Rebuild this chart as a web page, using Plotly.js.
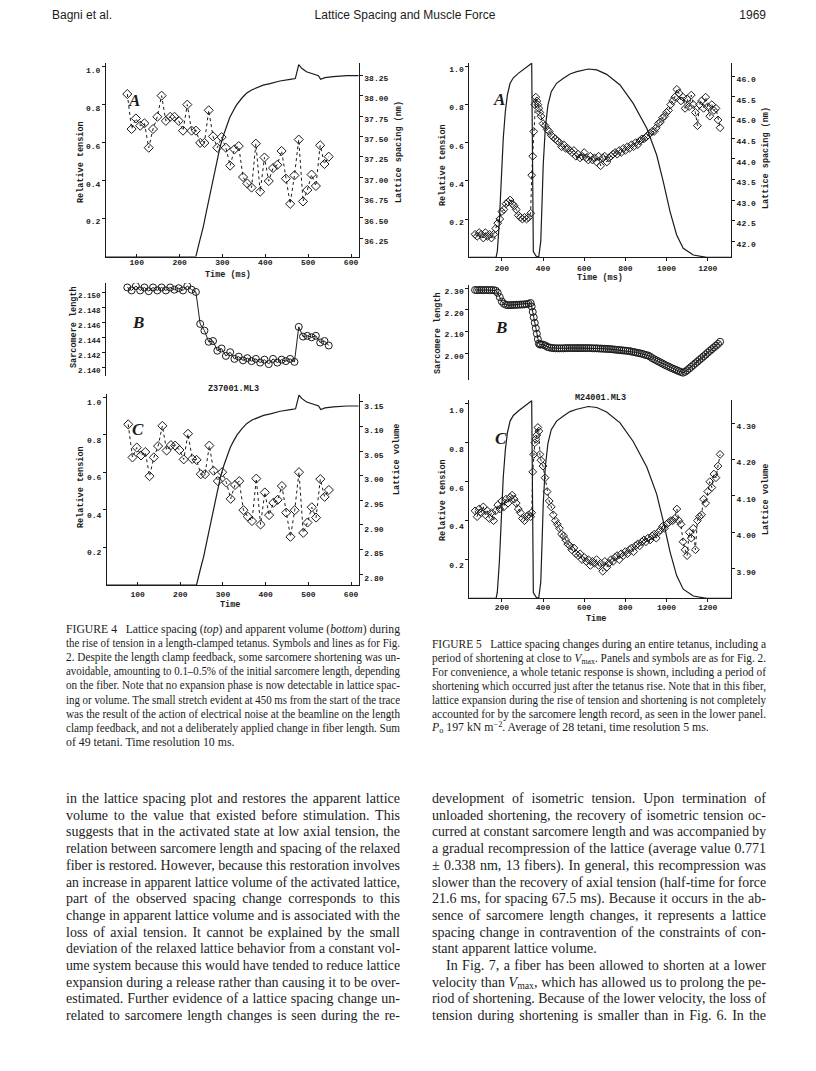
<!DOCTYPE html>
<html><head><meta charset="utf-8">
<script src="https://cdn.plot.ly/plotly-3.0.1.min.js"></script>
<style>
body{margin:0;background:#fff;}
#page{position:relative;width:816px;height:1071px;overflow:hidden;background:#fff;}
#plot{position:absolute;left:0;top:0;width:816px;height:1071px;}
.t{position:absolute;white-space:nowrap;color:#1b1b1b;}
.hd{font-family:'Liberation Sans',Arial,sans-serif;font-size:12px;line-height:14px;}
.cap{font-family:'Liberation Serif','Times New Roman',serif;font-size:11.8px;line-height:14px;}
.bd{font-family:'Liberation Serif','Times New Roman',serif;font-size:14px;line-height:17px;}
sub{font-size:70%;vertical-align:-2px;line-height:0;}
sup{font-size:70%;vertical-align:4px;line-height:0;}
</style></head><body><div id="page"><div id="plot"></div></div>
<script>
// ---------- FIGURE 4 data ----------
const time4T = [28,238,247,255,263,271,278,286,294,302,310,317,325,333,345,356,368,380,395,411,434,458,470,478,485,496,512,524,529,539,559,590,618];
const tension4 = [0,0,0.084,0.154,0.242,0.33,0.418,0.505,0.575,0.637,0.689,0.733,0.768,0.80,0.835,0.861,0.879,0.891,0.904,0.912,0.926,0.935,0.939,1.012,0.993,0.975,0.961,0.954,0.935,0.944,0.949,0.954,0.954];
const time4 = [78,88,98,108,118,128,138,148,158,168,178,188,198,208,218,228,238,248,258,268,278,288,298,308,318,328,338,348,358,368,378,388,398,408,418,428,438,448,458,468,478,488,498,508,518,528,538,548];
const spacing4 = [38.02,37.59,37.72,37.63,37.66,37.36,37.59,37.74,38.00,37.69,37.74,37.74,37.69,37.57,37.89,37.57,37.57,37.42,37.42,37.82,37.50,37.36,37.49,37.36,37.14,37.34,37.38,37.00,36.92,36.87,37.41,36.82,37.24,36.95,37.11,37.15,37.32,36.98,36.67,37.02,37.46,36.70,36.84,37.03,36.89,37.39,37.16,37.25];
const sarcomere4 = [2.1507,2.1503,2.1509,2.1503,2.1507,2.1502,2.1507,2.1503,2.1507,2.1503,2.1507,2.1504,2.1506,2.1503,2.1509,2.1504,2.1501,2.1458,2.1449,2.1434,2.1435,2.1422,2.1425,2.1415,2.1420,2.1411,2.1414,2.1409,2.1412,2.1408,2.1411,2.1406,2.1410,2.1404,2.1411,2.1406,2.1410,2.1408,2.1411,2.1407,2.1454,2.1441,2.1442,2.1440,2.1442,2.1433,2.1435,2.1429];
const volume4 = [3.104,3.037,3.057,3.041,3.048,2.999,3.037,3.060,3.101,3.051,3.062,3.061,3.052,3.033,3.085,3.034,3.032,3.003,3.003,3.061,3.010,2.989,3.007,2.986,2.953,2.981,2.989,2.930,2.917,2.908,2.994,2.901,2.966,2.920,2.945,2.951,2.979,2.925,2.876,2.930,3.007,2.884,2.905,2.936,2.915,2.993,2.957,2.971];

// ---------- FIGURE 5 data ----------
const time5T = [42,172,178,188,197,207,217,227,240,256,280,304,329,345,353,366,379,389,395,401,411,424,440,466,499,531,564,596,620,661,709,774,838,904,952,984,1017,1049,1081,1130,1195,1313];
const tension5 = [0,0,0.03,0.187,0.397,0.624,0.763,0.851,0.912,0.941,0.964,0.982,1.004,1.017,0.03,0.007,0,0.082,0.274,0.484,0.676,0.798,0.868,0.912,0.938,0.961,0.973,0.982,0.987,0.982,0.959,0.903,0.807,0.676,0.536,0.397,0.239,0.117,0.047,0.012,0,0];
const time5 = [70,80,90,100,110,120,130,140,150,160,170,180,190,200,210,220,230,240,250,260,270,280,290,300,310,320,330,340,345,350,355,360,365,370,375,380,385,390,400,410,420,430,440,450,460,470,480,490,500,510,520,530,540,550,560,570,580,590,600,610,620,630,640,650,660,670,680,690,700,710,720,730,740,750,760,770,780,790,800,810,820,830,840,850,860,870,880,890,900,910,920,930,940,950,960,970,980,990,1000,1010,1020,1030,1040,1050,1060,1070,1080,1090,1100,1110,1120,1130,1140,1150,1160,1170,1180,1190,1200,1210,1220,1230,1240,1250,1260];
const spacing5 = [42.17,42.12,42.21,42.17,42.08,42.21,42.12,42.17,42.08,42.17,
42.31,42.44,42.54,42.72,42.77,42.91,42.95,43.00,42.91,42.86,
42.77,42.63,42.58,42.54,42.58,42.54,42.58,42.68,
43.60,44.06,44.66,45.31,45.49,45.40,45.31,45.22,45.12,45.03,
44.85,44.80,44.71,44.66,44.57,44.52,44.48,44.43,44.39,44.29,
44.34,44.25,44.25,44.20,44.15,44.20,44.06,44.11,44.02,44.06,
44.15,44.02,43.97,44.06,43.97,44.02,43.92,44.06,43.83,44.02,
44.06,43.92,44.02,44.06,44.11,44.15,44.11,44.20,44.15,44.25,
44.20,44.29,44.25,44.34,44.29,44.39,44.34,44.43,44.48,44.48,
44.52,44.57,44.62,44.66,44.66,44.75,44.85,44.89,44.99,45.03,
45.12,45.17,45.31,45.40,45.49,45.68,45.59,45.40,45.49,45.22,
45.45,45.26,45.54,45.31,45.12,44.80,45.31,45.40,45.22,45.49,
45.26,45.03,45.31,45.17,45.22,44.94,44.75];
const sarcomere5 = [2.291,2.290,2.291,2.291,2.290,2.291,2.291,2.290,2.291,2.290,
2.288,2.278,2.258,2.238,2.228,2.223,2.221,2.221,2.222,2.222,
2.223,2.223,2.224,2.224,2.225,2.226,2.228,2.231,
2.215,2.190,2.165,2.140,2.115,2.090,2.065,2.045,2.040,2.041,
2.040,2.036,2.030,2.027,2.025,2.024,2.023,2.023,2.023,2.023,
2.023,2.024,2.024,2.024,2.024,2.024,2.024,2.024,2.024,2.024,
2.024,2.024,2.024,2.024,2.023,2.023,2.023,2.022,2.022,2.021,
2.021,2.020,2.020,2.019,2.018,2.017,2.016,2.015,2.014,2.013,
2.012,2.011,2.010,2.008,2.006,2.004,2.002,2.000,1.998,1.995,
1.992,1.990,1.985,1.978,1.973,1.968,1.963,1.958,1.953,1.948,
1.943,1.939,1.934,1.930,1.926,1.922,1.918,1.914,1.911,1.915,
1.922,1.930,1.938,1.946,1.954,1.962,1.970,1.978,1.986,1.994,
2.003,2.011,2.019,2.027,2.035,2.043,2.053];
const volume5 = [4.059,4.043,4.064,4.054,4.070,4.048,4.059,4.038,4.054,4.032,
4.059,4.075,4.064,4.086,4.070,4.091,4.080,4.096,4.102,4.091,
4.080,4.064,4.054,4.038,4.032,4.043,4.048,4.043,
4.054,4.166,4.214,4.246,4.256,4.267,4.288,4.278,4.214,4.198,
4.182,4.150,4.112,4.086,4.070,4.048,4.032,4.022,4.011,3.995,
3.990,3.979,3.968,3.963,3.952,3.957,3.941,3.936,3.941,3.925,
3.931,3.920,3.925,3.909,3.920,3.915,3.925,3.909,3.915,3.893,
3.920,3.904,3.915,3.925,3.920,3.931,3.936,3.925,3.941,3.936,
3.947,3.941,3.952,3.957,3.947,3.963,3.968,3.963,3.974,3.979,
3.974,3.984,3.979,3.990,3.995,3.984,4.000,4.006,4.016,4.011,
4.022,4.027,4.032,4.032,4.038,4.064,4.032,4.022,3.974,3.952,
3.936,4.000,3.984,4.011,3.952,4.032,4.043,4.048,4.091,4.080,
4.112,4.139,4.123,4.160,4.150,4.182,4.214];

// ---------- tick labels ----------
const timeTicks4 = [100,200,300,400,500,600];
const timeTicks5 = [200,400,600,800,1000,1200];
const tensionTicks = [0.2,0.4,0.6,0.8,1.0];
const spacingTicks4 = [36.25,36.50,36.75,37.00,37.25,37.50,37.75,38.00,38.25];
const sarcomereTicks4 = [2.140,2.142,2.144,2.146,2.148,2.150];
const volumeTicks4 = [2.80,2.85,2.90,2.95,3.00,3.05,3.10,3.15];
const spacingTicks5 = [42.0,42.5,43.0,43.5,44.0,44.5,45.0,45.5,46.0];
const sarcomereTicks5 = [2.00,2.10,2.20,2.30];
const volumeTicks5 = [3.90,4.00,4.10,4.20,4.30];

// ---------- text ----------
const headerLeft = 'Bagni et al.';
const headerMid = 'Lattice Spacing and Muscle Force';
const headerRight = '1969';
const caption4 = [
 'FIGURE 4&nbsp;&nbsp;&nbsp;Lattice spacing (<i>top</i>) and apparent volume (<i>bottom</i>) during',
 'the rise of tension in a length-clamped tetanus. Symbols and lines as for Fig.',
 '2. Despite the length clamp feedback, some sarcomere shortening was un-',
 'avoidable, amounting to 0.1–0.5% of the initial sarcomere length, depending',
 'on the fiber. Note that no expansion phase is now detectable in lattice spac-',
 'ing or volume. The small stretch evident at 450 ms from the start of the trace',
 'was the result of the action of electrical noise at the beamline on the length',
 'clamp feedback, and not a deliberately applied change in fiber length. Sum',
 'of 49 tetani. Time resolution 10 ms.'];
const caption5 = [
 'FIGURE 5&nbsp;&nbsp;&nbsp;Lattice spacing changes during an entire tetanus, including a',
 'period of shortening at close to <i>V</i><sub>max</sub>. Panels and symbols are as for Fig. 2.',
 'For convenience, a whole tetanic response is shown, including a period of',
 'shortening which occurred just after the tetanus rise. Note that in this fiber,',
 'lattice expansion during the rise of tension and shortening is not completely',
 'accounted for by the sarcomere length record, as seen in the lower panel.',
 '<i>P</i><sub>o</sub> 197 kN m<sup>−2</sup>. Average of 28 tetani, time resolution 5 ms.'];
const bodyLeft = [
 'in the lattice spacing plot and restores the apparent lattice',
 'volume to the value that existed before stimulation. This',
 'suggests that in the activated state at low axial tension, the',
 'relation between sarcomere length and spacing of the relaxed',
 'fiber is restored. However, because this restoration involves',
 'an increase in apparent lattice volume of the activated lattice,',
 'part of the observed spacing change corresponds to this',
 'change in apparent lattice volume and is associated with the',
 'loss of axial tension. It cannot be explained by the small',
 'deviation of the relaxed lattice behavior from a constant vol-',
 'ume system because this would have tended to reduce lattice',
 'expansion during a release rather than causing it to be over-',
 'estimated. Further evidence of a lattice spacing change un-',
 'related to sarcomere length changes is seen during the re-'];
const bodyRight1 = [
 'development of isometric tension. Upon termination of',
 'unloaded shortening, the recovery of isometric tension oc-',
 'curred at constant sarcomere length and was accompanied by',
 'a gradual recompression of the lattice (average value 0.771',
 '± 0.338 nm, 13 fibers). In general, this recompression was',
 'slower than the recovery of axial tension (half-time for force',
 '21.6 ms, for spacing 67.5 ms). Because it occurs in the ab-',
 'sence of sarcomere length changes, it represents a lattice',
 'spacing change in contravention of the constraints of con-',
 'stant apparent lattice volume.'];
const bodyRight2 = [
 'In Fig. 7, a fiber has been allowed to shorten at a lower',
 'velocity than <i>V</i><sub>max</sub>, which has allowed us to prolong the pe-',
 'riod of shortening. Because of the lower velocity, the loss of',
 'tension during shortening is smaller than in Fig. 6. In the'];

// ---------- layout helpers ----------
const W = 816, H = 1071;
const dx = (a,b) => [a/W, b/W];
const dy = (top,bottom) => [1-bottom/H, 1-top/H];
const px = v => v/W, py = v => 1-v/H;
const INK = '#1b1b1b';
const TF = {family:'Liberation Mono, DejaVu Sans Mono, monospace', size:8, color:INK, weight:'bold'};
const TFs = {family:'Liberation Mono, DejaVu Sans Mono, monospace', size:7.5, color:INK, weight:'bold'};
function arrTicks(vals, dec){return {tickmode:'array', tickvals:vals, ticktext:vals.map(v=>v.toFixed(dec))};}
function ax(extra){
  return Object.assign({showline:true, linecolor:INK, linewidth:1, ticks:'outside', ticklen:3, tickwidth:1,
    tickcolor:INK, showgrid:false, zeroline:false, tickfont:TF, fixedrange:true}, extra);
}
const diamond = s => ({symbol:'diamond-open', size:s, color:INK, line:{width:1, color:INK}});
const circle = s => ({symbol:'circle-open', size:s, color:INK, line:{width:1, color:INK}});

const traces = [
  {x:time4T, y:tension4, xaxis:'x', yaxis:'y', mode:'lines', line:{color:INK, width:1.2}},
  {x:time4, y:spacing4, xaxis:'x', yaxis:'y2', mode:'lines+markers', line:{color:INK, width:1, dash:'dot'}, marker:diamond(7)},
  {x:time4, y:sarcomere4, xaxis:'x2', yaxis:'y3', mode:'lines+markers', line:{color:INK, width:1}, marker:circle(7)},
  {x:time4T, y:tension4, xaxis:'x3', yaxis:'y4', mode:'lines', line:{color:INK, width:1.2}},
  {x:time4, y:volume4, xaxis:'x3', yaxis:'y5', mode:'lines+markers', line:{color:INK, width:1, dash:'dot'}, marker:diamond(7)},
  {x:time5T, y:tension5, xaxis:'x4', yaxis:'y6', mode:'lines', line:{color:INK, width:1.2}},
  {x:time5, y:spacing5, xaxis:'x4', yaxis:'y7', mode:'lines+markers', line:{color:INK, width:1, dash:'dot'}, marker:diamond(6)},
  {x:time5, y:sarcomere5, xaxis:'x5', yaxis:'y8', mode:'lines+markers', line:{color:INK, width:1}, marker:circle(7)},
  {x:time5T, y:tension5, xaxis:'x6', yaxis:'y9', mode:'lines', line:{color:INK, width:1.2}},
  {x:time5, y:volume5, xaxis:'x6', yaxis:'y10', mode:'lines+markers', line:{color:INK, width:1, dash:'dot'}, marker:diamond(6)}
];

const AF = {family:'Liberation Mono, DejaVu Sans Mono, monospace', size:8.5, color:INK, weight:'bold'};
const LF = {family:'Liberation Serif, serif', size:17, color:INK, style:'italic', weight:'bold'};
function ann(text, x, y, font, angle){
  return {text:text, x:px(x), y:py(y), xref:'paper', yref:'paper', showarrow:false, xanchor:'center', yanchor:'middle', font:font, textangle:angle||0};
}

const layout = {
  width:W, height:H, margin:{l:0,r:0,t:0,b:0}, paper_bgcolor:'#fff', plot_bgcolor:'rgba(0,0,0,0)',
  showlegend:false, hovermode:false,
  // Figure 4 A
  xaxis: ax(Object.assign({domain:dx(106,358.7), range:[28.3,617.9], anchor:'y', ticks:'inside', ticklen:3, ticklabelstandoff:-2}, arrTicks(timeTicks4,0))),
  yaxis: ax(Object.assign({domain:dy(63.2,256.5), range:[0,1.02], anchor:'x', ticklabelshift:3}, arrTicks(tensionTicks,1))),
  yaxis2: ax(Object.assign({domain:dy(63.2,256.5), range:[36.023,38.399], anchor:'x', overlaying:'y', side:'right', ticklabelshift:3}, arrTicks(spacingTicks4,2))),
  // Figure 4 B
  xaxis2: ax({domain:dx(106,358.7), range:[28.3,617.9], anchor:'y3', visible:false}),
  yaxis3: ax(Object.assign({domain:dy(283,376), range:[2.1388,2.1513], anchor:'x2', ticklabelshift:3, tickfont:TFs}, arrTicks(sarcomereTicks4,3))),
  // Figure 4 C
  xaxis3: ax(Object.assign({domain:dx(107,358.7), range:[28.3,617.9], anchor:'y4', ticks:'inside', ticklen:3, ticklabelstandoff:1}, arrTicks(timeTicks4,0))),
  yaxis4: ax(Object.assign({domain:dy(393.6,585), range:[0,1.02], anchor:'x3', ticklabelshift:5}, arrTicks(tensionTicks,1))),
  yaxis5: ax(Object.assign({domain:dy(393.6,585), range:[2.7783,3.1664], anchor:'x3', overlaying:'y4', side:'right', ticklabelshift:4}, arrTicks(volumeTicks4,2))),
  // Figure 5 A
  xaxis4: ax(Object.assign({domain:dx(469.3,731), range:[42,1313], anchor:'y6'}, arrTicks(timeTicks5,0))),
  yaxis6: ax(Object.assign({domain:dy(62.7,257.3), range:[0,1.02], anchor:'x4', ticklabelshift:3}, arrTicks(tensionTicks,1))),
  yaxis7: ax(Object.assign({domain:dy(62.7,257.3), range:[41.613,46.325], anchor:'x4', overlaying:'y6', side:'right', ticklabelshift:3}, arrTicks(spacingTicks5,1))),
  // Figure 5 B
  xaxis5: ax({domain:dx(469.3,731), range:[42,1313], anchor:'y8', visible:false}),
  yaxis8: ax(Object.assign({domain:dy(285,380), range:[1.8774,2.3138], anchor:'x5', ticklabelshift:3}, arrTicks(sarcomereTicks5,2))),
  // Figure 5 C
  xaxis6: ax(Object.assign({domain:dx(469.3,731), range:[42,1313], anchor:'y9', ticklabelstandoff:-2}, arrTicks(timeTicks5,0))),
  yaxis9: ax(Object.assign({domain:dy(400.1,598.3), range:[0,1.02], anchor:'x6', ticklabelshift:6}, arrTicks(tensionTicks,1))),
  yaxis10: ax(Object.assign({domain:dy(400.1,598.3), range:[3.8187,4.3632], anchor:'x6', overlaying:'y9', side:'right', ticklabelshift:3}, arrTicks(volumeTicks5,2))),
  annotations: [
    ann('A',134,100,LF), ann('B',138,322,LF), ann('C',138,429,LF),
    ann('A',499,99,LF), ann('B',501,327,LF), ann('C',501,438,LF),
    ann('Relative tension',81,162,AF,-90), ann('Sarcomere length',74,327,AF,-90), ann('Relative tension',81,487,AF,-90),
    ann('Lattice spacing (nm)',399,152,AF,-90), ann('Lattice volume',397,460,AF,-90),
    ann('Time (ms)',228,275,AF), ann('Time',230,605,AF), ann('Z37001.ML3',233,389,AF),
    ann('Relative tension',443,165,AF,-90), ann('Sarcomere length',438,333,AF,-90), ann('Relative tension',443,500,AF,-90),
    ann('Lattice spacing (nm)',766,158,AF,-90), ann('Lattice volume',766,500,AF,-90),
    ann('Time (ms)',600,278,AF), ann('Time',596,619,AF), ann('M24001.ML3',600,398,AF)
  ]
};

Plotly.newPlot('plot', traces, layout, {staticPlot:true, displayModeBar:false});

// ---------- text blocks ----------
const page = document.getElementById('page');
function put(html, cls, left, top){
  const d = document.createElement('div'); d.className = 't '+cls; d.style.left = left+'px'; d.style.top = top+'px';
  const s = document.createElement('span'); s.innerHTML = html; d.appendChild(s); page.appendChild(d); return s;
}
function block(lines, cls, left, top0, step, width, lastFree, indent){
  lines.forEach((html,i) => {
    const ind = (i===0 && indent) ? indent : 0;
    const s = put(html, cls, left+ind, top0+i*step);
    const w = width-ind;
    const nat = s.getBoundingClientRect().width;
    const free = lastFree && i===lines.length-1;
    if (nat > w) { s.style.display='inline-block'; s.style.transformOrigin='0 0'; s.style.transform='scaleX('+(w/nat)+')'; }
    else if (!free) { const n = (s.textContent.match(/ /g)||[]).length; if (n) s.style.wordSpacing = ((w-nat)/n)+'px'; }
  });
}
put(headerLeft,'hd',52,8);
const hm = put(headerMid,'hd',0,8); hm.parentNode.style.left = (405 - hm.getBoundingClientRect().width/2)+'px';
const hr = put(headerRight,'hd',0,8); hr.parentNode.style.left = (766 - hr.getBoundingClientRect().width)+'px';

const BODY_TOP = 790, BODY_STEP = 16.7;
block(caption4,'cap',66,622,14.1,334,true);
block(caption5,'cap',432,637,13.9,334,true);
block(bodyLeft,'bd',66,BODY_TOP,BODY_STEP,334,false);
block(bodyRight1,'bd',432,BODY_TOP,BODY_STEP,334,true);
block(bodyRight2,'bd',432,BODY_TOP+10*BODY_STEP,BODY_STEP,334,false,14);
</script></body></html>
